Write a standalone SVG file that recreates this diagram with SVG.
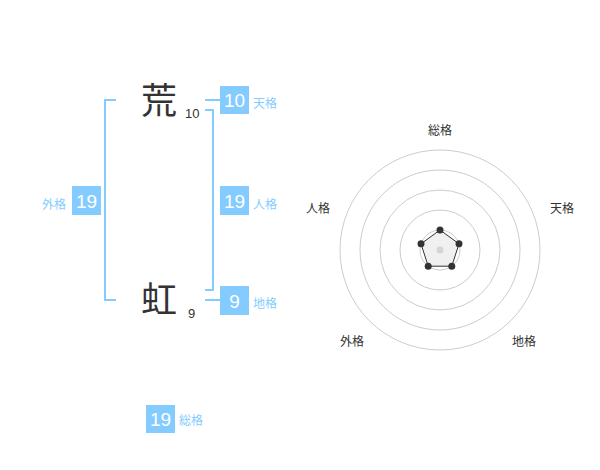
<svg xmlns="http://www.w3.org/2000/svg" width="600" height="470" viewBox="0 0 600 470">
<style>
.kanji{font-family:"Noto Sans CJK JP","Noto Sans CJK SC",sans-serif;font-size:36px;fill:#333;text-anchor:middle}
.stroke{font-family:"Liberation Sans",Arial,sans-serif;font-size:13px;fill:#333}
.box{fill:#84CCFF}
.num{font-family:"Liberation Sans",Arial,sans-serif;font-size:19px;fill:#fff;text-anchor:middle}
.lab{font-family:"Liberation Sans","Noto Sans CJK JP",sans-serif;font-size:12px;fill:#84CCFF}
.br{fill:none;stroke:#84CCFF;stroke-width:2}
.ring{fill:none;stroke:#ccc;stroke-width:1}
.rl{font-family:"Liberation Sans","Noto Sans CJK JP",sans-serif;font-size:12px;fill:#333;text-anchor:middle}
.dot{fill:#333}
</style>
<rect width="600" height="470" fill="#fff"/>
<g id="connectors">
<polyline class="br" points="116,100 105,100 105,300 116,300"/>
<polyline class="br" points="205,110 213,110 213,290 205,290"/>
<line class="br" x1="205" y1="100" x2="220" y2="100"/>
<line class="br" x1="205" y1="300" x2="220" y2="300"/>
</g>
<g id="char1">
<text class="kanji" x="159" y="114">荒</text>
<text class="stroke" x="185" y="118">10</text>
</g>
<g id="char2">
<text class="kanji" x="159" y="313">虹</text>
<text class="stroke" x="188" y="318">9</text>
</g>
<g id="tenkaku">
<rect class="box" x="220" y="86" width="29" height="28"/>
<text class="num" x="234.5" y="107">10</text>
<text class="lab" x="253" y="108">天格</text>
</g>
<g id="jinkaku">
<rect class="box" x="220" y="186" width="29" height="29"/>
<text class="num" x="234.5" y="207.5">19</text>
<text class="lab" x="253" y="209">人格</text>
</g>
<g id="chikaku">
<rect class="box" x="220" y="286" width="29" height="29"/>
<text class="num" x="234.5" y="307.5">9</text>
<text class="lab" x="253" y="308">地格</text>
</g>
<g id="gaikaku">
<rect class="box" x="72" y="186" width="29" height="29"/>
<text class="num" x="86.5" y="207.5">19</text>
<text class="lab" x="66" y="209" text-anchor="end">外格</text>
</g>
<g id="soukaku">
<rect class="box" x="146" y="405" width="29" height="28"/>
<text class="num" x="160.5" y="426">19</text>
<text class="lab" x="179" y="425">総格</text>
</g>
<g id="radar">
<circle class="ring" cx="440" cy="250" r="100"/>
<circle class="ring" cx="440" cy="250" r="80"/>
<circle class="ring" cx="440" cy="250" r="60"/>
<circle class="ring" cx="440" cy="250" r="40"/>
<circle class="ring" cx="440" cy="250" r="20"/>
<circle cx="440" cy="250" r="3.5" fill="#ccc"/>
<polygon points="440,230 459,243.8 451.8,266.2 428.2,266.2 421,243.8" fill="#ddd" fill-opacity="0.45" stroke="#333" stroke-width="1"/>
<circle class="dot" cx="440" cy="230" r="3.5"/>
<circle class="dot" cx="459" cy="243.8" r="3.5"/>
<circle class="dot" cx="451.8" cy="266.2" r="3.5"/>
<circle class="dot" cx="428.2" cy="266.2" r="3.5"/>
<circle class="dot" cx="421" cy="243.8" r="3.5"/>
<text class="rl" x="440" y="135">総格</text>
<text class="rl" x="562" y="213">天格</text>
<text class="rl" x="318" y="213">人格</text>
<text class="rl" x="524" y="346">地格</text>
<text class="rl" x="352" y="346">外格</text>
</g>
</svg>
